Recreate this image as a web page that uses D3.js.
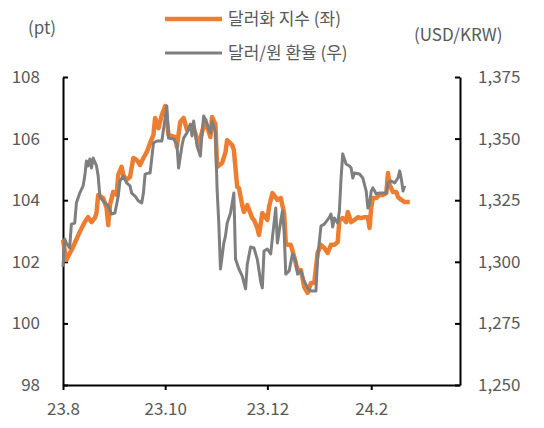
<!DOCTYPE html>
<html>
<head>
<meta charset="utf-8">
<script src="https://cdn.jsdelivr.net/npm/d3@7"></script>
<style>
  body { margin: 0; background: #fff; }
  text { font-family: "Noto Sans CJK KR", "Noto Sans", sans-serif; fill: #595959; }
  .axis path, .axis line { stroke: #000; stroke-width: 2; }
  .axis text { font-size: 17px; fill: #595959; }
</style>
</head>
<body>
<div class="graphic"></div>
<script>
var width = 544;
var height = 428;

// 달러화 지수 (좌)
var dxyDates = ["2023-08-01","2023-08-03","2023-08-07","2023-08-11","2023-08-14","2023-08-16","2023-08-18","2023-08-20","2023-08-21","2023-08-22",
	"2023-08-25","2023-08-27","2023-08-28","2023-08-29","2023-08-31","2023-09-02","2023-09-03","2023-09-05","2023-09-06","2023-09-08",
	"2023-09-10","2023-09-12","2023-09-14","2023-09-16","2023-09-18","2023-09-20","2023-09-22","2023-09-24","2023-09-25","2023-09-27",
	"2023-09-29","2023-10-01","2023-10-03","2023-10-07","2023-10-08","2023-10-10","2023-10-12","2023-10-14","2023-10-17","2023-10-19",
	"2023-10-21","2023-10-23","2023-10-25","2023-10-26","2023-10-28","2023-10-29","2023-10-31","2023-11-01","2023-11-04","2023-11-06",
	"2023-11-07","2023-11-10","2023-11-11","2023-11-13","2023-11-14","2023-11-16","2023-11-17","2023-11-19","2023-11-22","2023-11-23",
	"2023-11-25","2023-11-26","2023-11-28","2023-12-01","2023-12-02","2023-12-04","2023-12-07","2023-12-09","2023-12-11","2023-12-12",
	"2023-12-13","2023-12-15","2023-12-17","2023-12-19","2023-12-21","2023-12-22","2023-12-23","2023-12-25","2023-12-27","2023-12-29",
	"2023-12-31","2024-01-02","2024-01-04","2024-01-06","2024-01-08","2024-01-10","2024-01-12","2024-01-13","2024-01-15","2024-01-17",
	"2024-01-18","2024-01-20","2024-01-22","2024-01-24","2024-01-26","2024-01-28","2024-01-30","2024-01-31","2024-02-01","2024-02-02",
	"2024-02-04","2024-02-06","2024-02-08","2024-02-10","2024-02-11","2024-02-12","2024-02-14","2024-02-16","2024-02-17","2024-02-19",
	"2024-02-21","2024-02-24"];
var dxyValues = [102.71,102.06,102.48,102.97,103.29,103.45,103.29,103.42,103.58,104.17,
	104.07,103.75,103.19,103.84,104.27,104.17,104.82,105.08,104.82,104.66,
	104.75,105.37,105.31,105.14,105.37,105.56,105.86,106.12,106.67,106.34,
	106.77,107.06,106.12,106.05,105.73,106.54,106.67,106.28,106.44,106.18,
	105.79,106.21,106.60,106.38,106.05,106.70,106.47,105.08,105.21,105.56,
	105.95,105.79,105.63,104.43,104.40,103.84,103.62,103.84,103.42,103.36,
	103.10,102.87,103.58,103.36,103.78,104.23,104.01,104.07,103.58,102.61,
	102.55,102.55,102.16,101.73,101.73,101.47,101.18,100.99,101.31,101.31,
	102.29,102.55,102.45,102.29,102.55,102.55,102.64,103.36,103.42,103.29,
	103.62,103.29,103.36,103.45,103.42,103.45,103.45,103.10,103.75,104.07,
	104.07,104.17,104.17,104.23,104.88,104.49,104.27,104.27,104.10,104.01,
	103.94,103.94];

// 달러/원 환율 (우)
var krwDates = ["2023-08-01","2023-08-02","2023-08-03","2023-08-05","2023-08-06","2023-08-08","2023-08-09","2023-08-11","2023-08-13","2023-08-14",
	"2023-08-15","2023-08-16","2023-08-17","2023-08-18","2023-08-19","2023-08-21","2023-08-22","2023-08-23","2023-08-24","2023-08-26",
	"2023-08-28","2023-08-30","2023-09-01","2023-09-03","2023-09-04","2023-09-06","2023-09-08","2023-09-10","2023-09-11","2023-09-13",
	"2023-09-15","2023-09-17","2023-09-18","2023-09-19","2023-09-21","2023-09-22","2023-09-24","2023-09-26","2023-09-29","2023-10-02",
	"2023-10-03","2023-10-06","2023-10-08","2023-10-09","2023-10-11","2023-10-12","2023-10-14","2023-10-16","2023-10-17","2023-10-18",
	"2023-10-20","2023-10-22","2023-10-23","2023-10-24","2023-10-26","2023-10-28","2023-10-29","2023-10-30","2023-10-31","2023-11-01",
	"2023-11-02","2023-11-03","2023-11-05","2023-11-06","2023-11-07","2023-11-09","2023-11-11","2023-11-12","2023-11-14","2023-11-16",
	"2023-11-18","2023-11-19","2023-11-21","2023-11-23","2023-11-25","2023-11-27","2023-11-28","2023-11-29","2023-12-01","2023-12-03",
	"2023-12-04","2023-12-06","2023-12-07","2023-12-09","2023-12-10","2023-12-11","2023-12-12","2023-12-14","2023-12-16","2023-12-18",
	"2023-12-19","2023-12-21","2023-12-23","2023-12-25","2023-12-27","2023-12-30","2023-12-31","2024-01-02","2024-01-04","2024-01-07",
	"2024-01-08","2024-01-09","2024-01-10","2024-01-12","2024-01-13","2024-01-14","2024-01-15","2024-01-17","2024-01-19","2024-01-20",
	"2024-01-21","2024-01-22","2024-01-25","2024-01-27","2024-01-29","2024-01-30","2024-01-31","2024-02-01","2024-02-02","2024-02-04",
	"2024-02-06","2024-02-10","2024-02-11","2024-02-13","2024-02-15","2024-02-17","2024-02-18","2024-02-19","2024-02-20","2024-02-21"];
var krwValues = [1298.0,1309.3,1307.6,1305.6,1315.3,1315.7,1323.9,1327.9,1330.8,1334.8,
	1340.9,1338.9,1341.7,1338.1,1342.1,1338.9,1334.8,1326.7,1325.5,1323.9,
	1322.6,1319.4,1319.8,1326.7,1332.8,1334.8,1332.0,1330.8,1327.9,1326.7,
	1324.7,1323.9,1327.9,1335.6,1336.0,1336.0,1348.2,1349.0,1349.0,1363.2,
	1350.2,1349.8,1347.8,1338.1,1347.0,1350.2,1352.3,1355.9,1351.1,1357.1,
	1347.0,1342.9,1352.3,1359.2,1355.9,1352.3,1357.1,1355.1,1352.3,1329.5,
	1315.7,1297.1,1307.6,1310.5,1315.7,1319.8,1327.9,1301.1,1297.1,1294.2,
	1289.0,1299.0,1306.0,1305.6,1301.0,1292.0,1289.4,1304.4,1305.2,1303.2,
	1309.7,1321.8,1307.6,1316.6,1320.6,1312.5,1295.0,1296.3,1303.2,1300.3,
	1295.0,1296.3,1292.2,1289.4,1288.1,1288.1,1301.5,1314.5,1315.3,1318.0,
	1319.4,1314.1,1317.8,1315.7,1320.6,1334.0,1343.8,1339.7,1338.9,1338.1,
	1334.0,1336.0,1335.6,1334.0,1328.7,1321.8,1323.5,1328.7,1330.0,1327.5,
	1327.9,1327.9,1332.0,1332.8,1332.0,1334.0,1336.9,1333.6,1328.7,1330.8];

var xDomain = ["2023-08-01","2024-03-25"];
var xTickDates = ["2023-08-01","2023-10-01","2023-12-01","2024-02-01"];
var xTickLabels = ["23.8","23.10","23.12","24.2"];
var leftTicks = [98,100,102,104,106,108];
var rightTicks = [1250,1275,1300,1325,1350,1375];
var seriesNames = ["달러화 지수 (좌)","달러/원 환율 (우)"];
var seriesColors = ["#ED7D31","#7F7F7F"];

var parseDate = d3.timeParse("%Y-%m-%d");

var svg = d3.select("div.graphic").append("svg")
	.attr("width", width)
	.attr("height", height);

var x = d3.scaleTime()
	.domain(xDomain.map(parseDate))
	.range([63, 460]);
var yLeft = d3.scaleLinear().domain([98, 108]).range([385, 77]);
var yRight = d3.scaleLinear().domain([1250, 1375]).range([385, 77]);

var dxy = dxyDates.map(function(d, i){ return {date: parseDate(d), value: dxyValues[i]}; });
var krw = krwDates.map(function(d, i){ return {date: parseDate(d), value: krwValues[i]}; });

var lineLeft = d3.line()
	.x(function(d){ return x(d.date); })
	.y(function(d){ return yLeft(d.value); });
var lineRight = d3.line()
	.x(function(d){ return x(d.date); })
	.y(function(d){ return yRight(d.value); });

// axes
svg.append("g")
	.attr("class", "axis")
	.attr("transform", "translate(63,0)")
	.call(d3.axisLeft(yLeft).tickValues(leftTicks).tickSizeInner(-5).tickSizeOuter(0).tickPadding(23));

svg.append("g")
	.attr("class", "axis")
	.attr("transform", "translate(460,0)")
	.call(d3.axisRight(yRight).tickValues(rightTicks).tickSizeInner(-5).tickSizeOuter(0).tickPadding(18).tickFormat(d3.format(",")));

svg.append("g")
	.attr("class", "axis")
	.attr("transform", "translate(0,385)")
	.call(d3.axisBottom(x).tickValues(xTickDates.map(parseDate)).tickSizeInner(5).tickSizeOuter(0).tickPadding(13)
		.tickFormat(function(d, i){ return xTickLabels[i]; }));

// lines
svg.append("path")
	.datum(dxy)
	.attr("d", lineLeft)
	.attr("fill", "none")
	.attr("stroke", seriesColors[0])
	.attr("stroke-width", 4.5)
	.attr("stroke-linejoin", "round");

svg.append("path")
	.datum(krw)
	.attr("d", lineRight)
	.attr("fill", "none")
	.attr("stroke", seriesColors[1])
	.attr("stroke-width", 3)
	.attr("stroke-linejoin", "round");

// unit labels
svg.append("text").attr("x", 28).attr("y", 34).attr("font-size", 17).text("(pt)");
svg.append("text").attr("x", 414).attr("y", 41).attr("font-size", 17).text("(USD/KRW)");

// legend
var legend = svg.selectAll("g.legend")
	.data(seriesNames)
	.enter()
	.append("g")
	.attr("class", "legend")
	.attr("transform", function(d, i){ return "translate(165," + (19 + i * 34) + ")"; });
legend.append("line")
	.attr("x1", 0).attr("x2", 57)
	.attr("stroke", function(d, i){ return seriesColors[i]; })
	.attr("stroke-width", function(d, i){ return i == 0 ? 4.5 : 3; });
legend.append("text")
	.attr("x", 63)
	.attr("dy", "0.35em")
	.attr("font-size", 17)
	.text(function(d){ return d; });
</script>
</body>
</html>
